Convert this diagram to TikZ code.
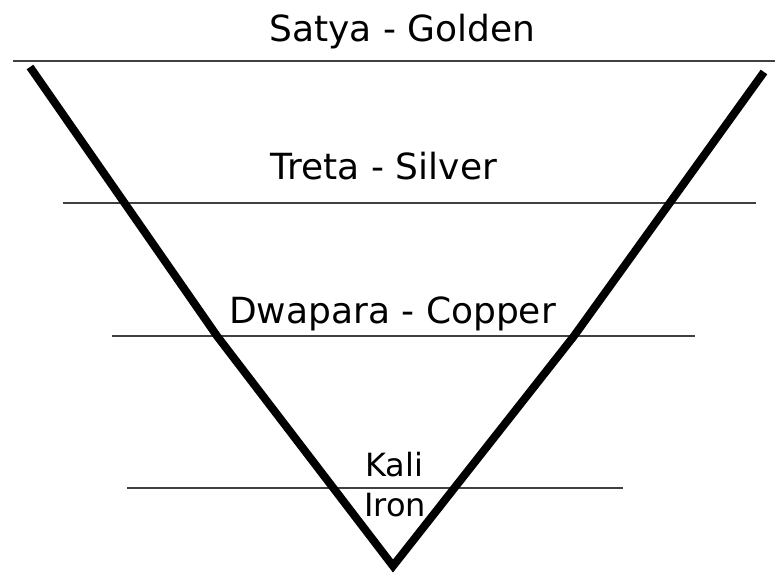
\documentclass[tikz,border=0pt]{standalone}
\usepackage{fontspec}
\setmainfont{DejaVu Sans}
\begin{document}
\begin{tikzpicture}[x=1pt,y=1pt,
  ageline/.style={draw=black!75,line width=1.8pt},
  vline/.style={draw=black,line width=8pt,line join=miter,line cap=butt},
  bigtxt/.style={font=\fontsize{36}{43}\selectfont,anchor=base,inner sep=0pt},
  smalltxt/.style={font=\fontsize{32}{38}\selectfont,anchor=base,inner sep=0pt}]
\useasboundingbox[fill=white] (0,0) rectangle (775,577);
% horizontal age lines
\coordinate (s1) at (13,516); \coordinate (s2) at (775,516);
\coordinate (t1) at (63,374); \coordinate (t2) at (756,374);
\coordinate (d1) at (112,241); \coordinate (d2) at (695,241);
\coordinate (k1) at (127,89); \coordinate (k2) at (623,89);
\draw[ageline] (s1) -- (s2);
\draw[ageline] (t1) -- (t2);
\draw[ageline] (d1) -- (d2);
\draw[ageline] (k1) -- (k2);
% the V
\coordinate (vl) at (30,510);
\coordinate (vlm) at (217,241);
\coordinate (va) at (393,11);
\coordinate (vrm) at (574,241);
\coordinate (vr) at (764,505);
\draw[vline] (vl) -- (vlm) -- (va) -- (vrm) -- (vr);
% labels
\node[bigtxt] (satya) at (402.5,535) {Satya - Golden};
\node[bigtxt] (treta) at (384,397) {Treta - Silver};
\node[bigtxt] (dwapara) at (392.5,253) {Dwapara - Copper};
\node[smalltxt] (kali) at (394,100) {Kali};
\node[smalltxt] (iron) at (395,60) {Iron};
\end{tikzpicture}
\end{document}
